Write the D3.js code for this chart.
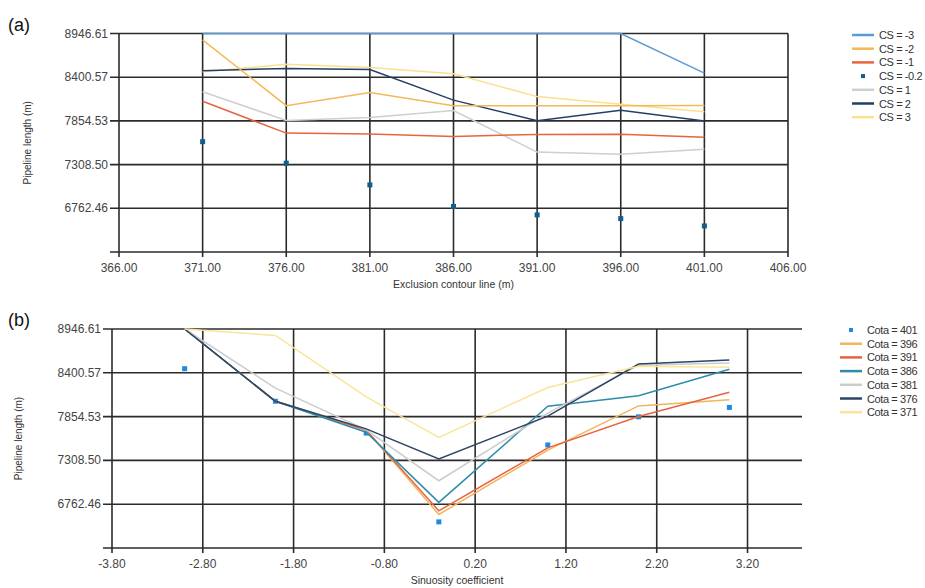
<!DOCTYPE html>
<html>
<head>
<meta charset="utf-8">
<script src="https://cdn.jsdelivr.net/npm/d3@7"></script>
<style>
  body { margin: 0; background: #fff; }
  text { font-family: "Liberation Sans", Arial, sans-serif; }
</style>
</head>
<body>
<div id="chart"></div>
<script>
// exclusion contour lines (cota) and sinuosity coefficients (CS)
const cotas = [371, 376, 381, 386, 391, 396, 401];
const csValues = [-3, -2, -1, -0.2, 1, 2, 3];

// pipeline length (m) for each cota, one value per CS
const len371 = [8946.61, 8866, 8100, 7595, 8218, 8482, 8470];
const len376 = [8946.61, 8045, 7702, 7326, 7860, 8510, 8561];
const len381 = [8946.61, 8210, 7690, 7055, 7898, 8496, 8523];
const len386 = [8946.61, 8045, 7660, 6785, 7983, 8114, 8444];
const len391 = [8946.61, 8045, 7686, 6680, 7465, 7856, 8158];
const len396 = [8946.61, 8045, 7687, 6634, 7437, 7988, 8064];
const len401 = [8452, 8046, 7649, 6542, 7501, 7852, 7969];
const lengths = [len371, len376, len381, len386, len391, len396, len401];

const yTicks = [6762.46, 7308.50, 7854.53, 8400.57, 8946.61];
const yMin = 6216.42;
const xTicksA = [366, 371, 376, 381, 386, 391, 396, 401, 406];
const xTicksB = [-3.8, -2.8, -1.8, -0.8, 0.2, 1.2, 2.2, 3.2];

const csColors = ["#5b9bd5", "#f4b859", "#e8643f", "#0f5e8c", "#cfcfcf", "#223f66", "#fbe08f"];
const cotaColors = ["#fbe49a", "#2c4466", "#cccccc", "#2e8cab", "#e8643f", "#f2b45c", "#1e88e5"];

const svg = d3.select("#chart").append("svg")
  .attr("width", 925).attr("height", 588);

function drawPanel(opt) {
  const x = d3.scaleLinear().domain(opt.xDomain).range([opt.left, opt.right]);
  const y = d3.scaleLinear().domain([yMin, 8946.61]).range([opt.bottom, opt.top]);
  const g = svg.append("g");

  // grid
  g.selectAll(".hg").data(yTicks.concat([yMin])).join("line")
    .attr("x1", opt.left - 9).attr("x2", opt.right)
    .attr("y1", d => y(d)).attr("y2", d => y(d))
    .attr("stroke", "#2b2b2b").attr("stroke-width", 1.6);
  g.selectAll(".vg").data(opt.xTicks).join("line")
    .attr("x1", d => x(d)).attr("x2", d => x(d))
    .attr("y1", opt.top).attr("y2", opt.bottom + 5)
    .attr("stroke", "#2b2b2b").attr("stroke-width", 1.6);

  // tick labels
  g.selectAll(".yl").data(yTicks).join("text")
    .attr("x", opt.left - 11).attr("y", d => y(d) + 4)
    .attr("text-anchor", "end").attr("font-size", 12).attr("fill", "#444")
    .text(d => d.toFixed(2));
  g.selectAll(".xl").data(opt.xTicks).join("text")
    .attr("x", d => x(d)).attr("y", opt.bottom + 20)
    .attr("text-anchor", "middle").attr("font-size", 12).attr("fill", "#444")
    .text(d => d.toFixed(2));

  // titles
  g.append("text")
    .attr("x", (opt.left + opt.right) / 2).attr("y", opt.bottom + 36)
    .attr("text-anchor", "middle").attr("font-size", 10.5).attr("fill", "#333")
    .text(opt.xTitle);
  g.append("text")
    .attr("transform", `translate(${opt.yTitleX},${(opt.top + opt.bottom) / 2}) rotate(-90)`)
    .attr("text-anchor", "middle").attr("font-size", 10).attr("fill", "#333")
    .text("Pipeline length (m)");
  g.append("text")
    .attr("x", 8).attr("y", opt.top - 3)
    .attr("font-size", 18).attr("fill", "#111")
    .text(opt.label);

  const line = d3.line().x(d => x(d[0])).y(d => y(d[1]));

  opt.series.forEach((s, i) => {
    if (s.markers) {
      g.selectAll(null).data(s.points).join("rect")
        .attr("x", d => x(d[0]) - 2.5).attr("y", d => y(d[1]) - 2.5)
        .attr("width", 5).attr("height", 5).attr("fill", s.color);
    } else {
      g.append("path").datum(s.points)
        .attr("d", line).attr("fill", "none")
        .attr("stroke", s.color).attr("stroke-width", 1.5);
    }
  });

  // legend
  const lg = g.selectAll(".lg").data(opt.legend).join("g")
    .attr("transform", (d, i) => `translate(${opt.legendX},${opt.legendY + i * 13.7})`);
  lg.each(function(d) {
    const e = d3.select(this);
    if (d.markers) {
      e.append("rect").attr("x", 9).attr("y", -2).attr("width", 4).attr("height", 4).attr("fill", d.color);
    } else {
      e.append("line").attr("x1", 0).attr("x2", 22).attr("y1", 0).attr("y2", 0)
        .attr("stroke", d.color).attr("stroke-width", 2.5);
    }
    e.append("text").attr("x", 27).attr("y", 4)
      .attr("font-size", 11).attr("letter-spacing", -0.4).attr("fill", "#333")
      .text(d.name);
  });
}

// (a) one series per CS, over the cotas
const seriesA = csValues.map((cs, j) => ({
  name: "CS = " + cs,
  color: csColors[j],
  markers: cs === -0.2,
  points: cotas.map((c, i) => [c, lengths[i][j]])
}));
drawPanel({
  left: 119, right: 788, top: 33.5, bottom: 252,
  xDomain: [366, 406], xTicks: xTicksA,
  xTitle: "Exclusion contour line (m)", yTitleX: 31, label: "(a)",
  series: seriesA.slice().reverse(), legend: seriesA,
  legendX: 852, legendY: 35
});

// (b) one series per cota, over the CS values
const seriesB = cotas.map((c, i) => ({
  name: "Cota = " + c,
  color: cotaColors[i],
  markers: c === 401,
  points: csValues.map((cs, j) => [cs, lengths[i][j]])
}));
drawPanel({
  left: 112, right: 802, top: 329, bottom: 548,
  xDomain: [-3.8, 3.8], xTicks: xTicksB,
  xTitle: "Sinuosity coefficient", yTitleX: 22, label: "(b)",
  series: seriesB.slice().reverse(), legend: seriesB.slice().reverse(),
  legendX: 840, legendY: 330
});
</script>
</body>
</html>
